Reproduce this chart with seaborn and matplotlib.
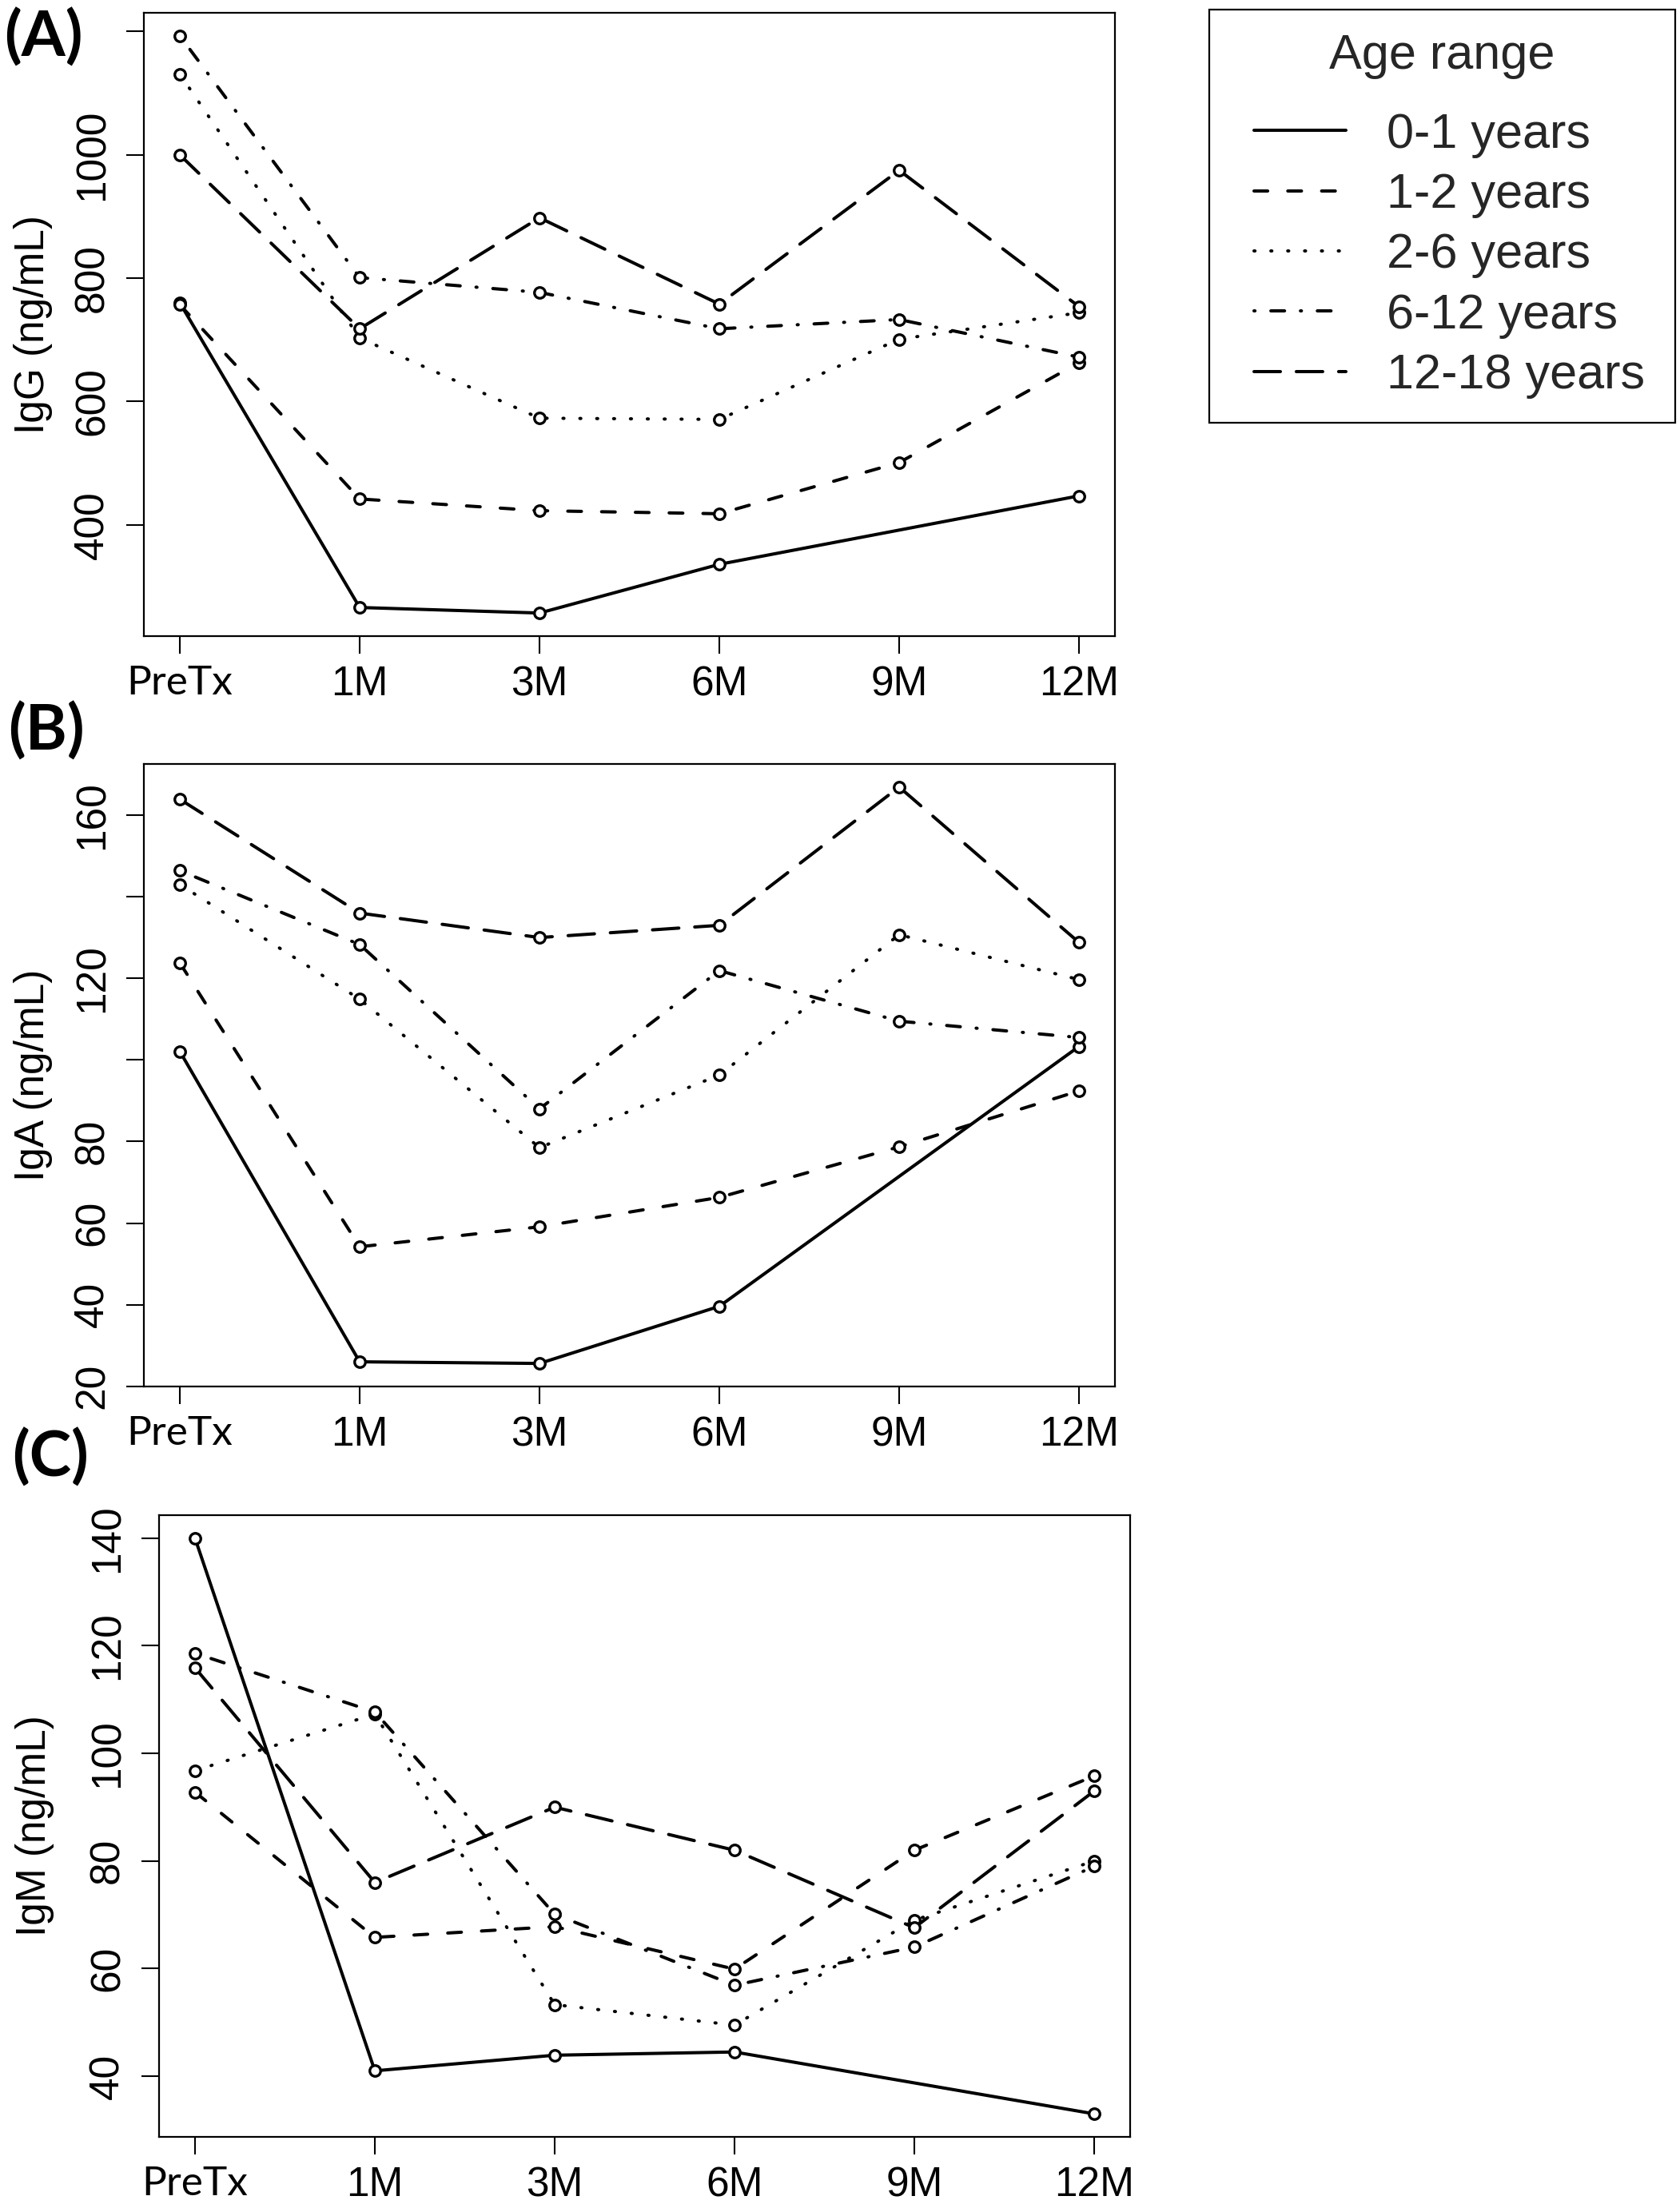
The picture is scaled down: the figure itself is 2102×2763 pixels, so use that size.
import numpy as np
import pandas as pd
import matplotlib
matplotlib.use("Agg")
import matplotlib.pyplot as plt
import seaborn as sns
from matplotlib.lines import Line2D
from matplotlib.legend_handler import HandlerLine2D

# ---------------- data ----------------
time_points = ["PreTx", "1M", "3M", "6M", "9M", "12M"]
age_groups = ["0-1 years", "1-2 years", "2-6 years", "6-12 years", "12-18 years"]

# IgG (ng/mL)
igg_0_1 = [760, 266, 257, 336, np.nan, 447]
igg_1_2 = [757, 442, 423, 418, 501, 663]
igg_2_6 = [1131, 703, 573, 571, 701, 744]
igg_6_12 = [1193, 801, 777, 718, 733, 672]
igg_12_18 = [1000, 718, 898, 758, 975, 754]

# IgA (ng/mL)
iga_0_1 = [102.1, 26.0, 25.6, 39.6, np.nan, 103.3]
iga_1_2 = [123.8, 54.2, 59.1, 66.3, 78.7, 92.4]
iga_2_6 = [143.0, 114.9, 78.5, 96.3, 130.7, 119.7]
iga_6_12 = [146.4, 128.3, 88.0, 121.9, 109.5, 105.5]
iga_12_18 = [163.9, 136.0, 130.0, 133.0, 166.9, 128.8]

# IgM (ng/mL)
igm_0_1 = [140.0, 41.0, 43.9, 44.5, np.nan, 33.0]
igm_1_2 = [92.8, 65.8, 67.8, 59.9, 82.0, 95.8]
igm_2_6 = [96.8, 107.3, 53.3, 49.5, 69.0, 80.0]
igm_6_12 = [118.6, 107.7, 70.1, 56.9, 64.0, 79.0]
igm_12_18 = [115.9, 76.0, 90.0, 82.0, 67.6, 93.0]

igg_ticks = [400, 600, 800, 1000, 1200]
igg_tick_labels = ["400", "600", "800", "1000", ""]
iga_ticks = [20, 40, 60, 80, 100, 120, 140, 160]
iga_tick_labels = ["20", "40", "60", "80", "", "120", "", "160"]
igm_ticks = [40, 60, 80, 100, 120, 140]
igm_tick_labels = ["40", "60", "80", "100", "120", "140"]


def long_form(series_list):
    rows = []
    for grp, vals in zip(age_groups, series_list):
        for i, v in enumerate(vals):
            rows.append({"age": grp, "pos": i, "time": time_points[i], "value": v})
    return pd.DataFrame(rows)


df_igg = long_form([igg_0_1, igg_1_2, igg_2_6, igg_6_12, igg_12_18])
df_iga = long_form([iga_0_1, iga_1_2, iga_2_6, iga_6_12, iga_12_18])
df_igm = long_form([igm_0_1, igm_1_2, igm_2_6, igm_6_12, igm_12_18])

# ---------------- style ----------------
sns.set_theme(style="white")
plt.rcParams["font.family"] = ["Liberation Sans", "DejaVu Sans"]
plt.rcParams["lines.dash_capstyle"] = "round"
plt.rcParams["lines.solid_capstyle"] = "round"

LW = 2.9
dash_map = {
    "0-1 years": "",
    "1-2 years": (4.25, 6.25),
    "2-6 years": (0.3, 4.94),
    "6-12 years": (0.3, 4.94, 4.25, 4.94),
    "12-18 years": (8.2, 4.94),
}

W, H = 2102, 2763
fig = plt.figure(figsize=(W / 100, H / 100), dpi=100)

panels = [
    dict(df=df_igg, tag="(A)", ylabel="IgG (ng/mL)", ticks=igg_ticks, tlabels=igg_tick_labels,
         box=(180, 16, 1395, 796), tag_xy=(5, 10), ylab_x=41),
    dict(df=df_iga, tag="(B)", ylabel="IgA (ng/mL)", ticks=iga_ticks, tlabels=iga_tick_labels,
         box=(180, 956, 1395, 1735), tag_xy=(10, 878), ylab_x=41),
    dict(df=df_igm, tag="(C)", ylabel="IgM (ng/mL)", ticks=igm_ticks, tlabels=igm_tick_labels,
         box=(199, 1896, 1414, 2674), tag_xy=(15, 1787), ylab_x=43),
]

for p in panels:
    l, t, r, b = p["box"]
    ax = fig.add_axes([l / W, 1 - b / H, (r - l) / W, (b - t) / H])
    d = p["df"].dropna()
    sns.lineplot(data=d, x="pos", y="value", style="age", style_order=age_groups,
                 dashes=dash_map, color="black", linewidth=LW, errorbar=None,
                 legend=False, sort=True, ax=ax, zorder=2)
    sns.scatterplot(data=d, x="pos", y="value", marker="o", s=95, color="white",
                    edgecolor="black", linewidth=2.4, legend=False, ax=ax, zorder=3)
    lo, hi = np.nanmin(p["df"]["value"]), np.nanmax(p["df"]["value"])
    pad = 0.04 * (hi - lo)
    ax.set_ylim(lo - pad, hi + pad)
    ax.set_xlim(-0.2, len(time_points) - 0.8)
    ax.set_xticks(range(len(time_points)))
    ax.set_xticklabels(time_points)
    ax.get_xticklabels()[0].set_fontfamily(["Lato", "DejaVu Sans"])
    ax.set_yticks(p["ticks"])
    ax.set_yticklabels(p["tlabels"], rotation=90, va="center", ha="center")
    ax.tick_params(axis="both", which="both", direction="out", length=16, width=1.5,
                   color="black", labelsize=37, labelcolor="black",
                   bottom=True, left=True, top=False, right=False)
    ax.tick_params(axis="x", pad=10)
    ax.tick_params(axis="y", pad=30)
    for s in ax.spines.values():
        s.set_visible(True)
        s.set_color("black")
        s.set_linewidth(1.6)
    ax.set_xlabel("")
    ax.set_ylabel(p["ylabel"], fontsize=37, color="black", va="center")
    ax.yaxis.set_label_coords((p["ylab_x"] - l) / (r - l), 0.5)
    ax.set_facecolor("white")
    fig.text(p["tag_xy"][0] / W, 1 - p["tag_xy"][1] / H, p["tag"], ha="left", va="top",
             fontsize=57, fontweight="bold", family=["Lato", "DejaVu Sans"], color="black")

# ---------------- legend ----------------
handles = []
for g in age_groups:
    ds = dash_map[g]
    ls = "-" if ds == "" else (0, ds)
    handles.append(Line2D([], [], color="black", lw=LW, linestyle=ls))

FS = 44
fs_px = FS * 100 / 72
xpad = 26 / fs_px
leg = fig.legend(handles, age_groups, title="Age range", loc="upper left",
                 bbox_to_anchor=(1513 / W, 1 - 534 / H, 583 / W, 522 / H),
                 bbox_transform=fig.transFigure, mode="expand", borderaxespad=0,
                 frameon=True, fancybox=False, edgecolor="black", framealpha=1,
                 fontsize=FS, title_fontsize=FS, borderpad=0.49, labelspacing=0.3,
                 handlelength=(115 + 26) / fs_px, handletextpad=51 / fs_px,
                 handler_map={Line2D: HandlerLine2D(xpad=xpad)})
leg.get_frame().set_linewidth(1.6)
leg._legend_box.sep = 30

fig.savefig("out.png", dpi=100, facecolor="white")
